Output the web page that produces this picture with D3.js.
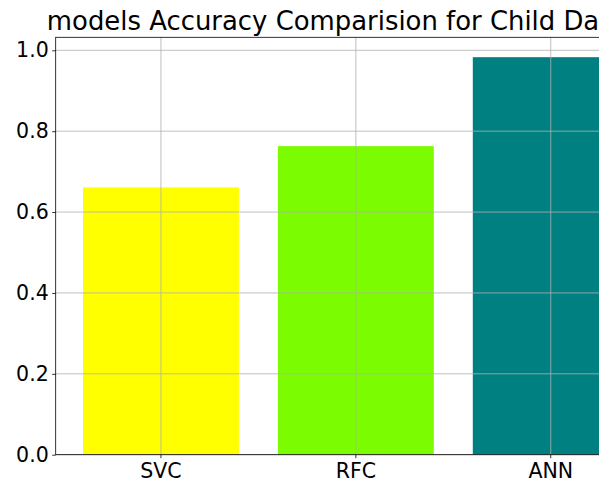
<!DOCTYPE html>
<html>
<head>
<meta charset="utf-8">
<script src="https://cdn.jsdelivr.net/npm/d3@7"></script>
<style>
html,body{margin:0;padding:0;background:#fff;overflow:hidden;}
svg{display:block;font-family:"DejaVu Sans",sans-serif;}
</style>
</head>
<body>
<svg id="chart" width="599" height="482"></svg>
<script>
const categories = ["SVC", "RFC", "ANN"];
const accuracy = [0.661, 0.763, 0.983];
const colors = ["#ffff00", "#7cfc00", "#008080"];
const yTicks = [0.0, 0.2, 0.4, 0.6, 0.8, 1.0];
const title = "models Accuracy Comparision for Child Dataset";

(function () {
const svg = d3.select("#chart");
const mLeft = 55.7, mRight = 656, mTop = 37.3, mBottom = 454.7;

const x = d3.scaleBand().domain(categories).range([mLeft, mRight])
  .paddingInner(0.2).paddingOuter(0.14);
const yMax = d3.max(accuracy) * 1.05;
const y = d3.scaleLinear().domain([0, yMax]).range([mBottom, mTop]);

// bars
svg.append("g").selectAll("rect").data(categories).join("rect")
  .attr("x", d => x(d))
  .attr("width", x.bandwidth())
  .attr("y", (d, i) => y(accuracy[i]))
  .attr("height", (d, i) => y(0) - y(accuracy[i]))
  .attr("fill", (d, i) => colors[i]);

// grid (above bars)
const grid = svg.append("g");
grid.selectAll(".hg").data(yTicks).join("line")
  .attr("x1", mLeft).attr("x2", mRight)
  .attr("y1", d => y(d)).attr("y2", d => y(d))
  .attr("stroke", "#b0b0b0").attr("stroke-width", 0.8);
grid.selectAll(".vg").data(categories).join("line")
  .attr("x1", d => x(d) + x.bandwidth() / 2).attr("x2", d => x(d) + x.bandwidth() / 2)
  .attr("y1", mTop).attr("y2", mBottom)
  .attr("stroke", "#b0b0b0").attr("stroke-width", 0.8);

// axes
const yAxis = svg.append("g").attr("transform", `translate(${mLeft},0)`)
  .call(d3.axisLeft(y).tickValues(yTicks).tickFormat(d3.format(".1f")).tickSize(3.5).tickPadding(3.5));
const xAxis = svg.append("g").attr("transform", `translate(0,${mBottom})`)
  .call(d3.axisBottom(x).tickSize(3.5).tickPadding(3.5));
[yAxis, xAxis].forEach(g => {
  g.select(".domain").remove();
  g.selectAll("line").attr("stroke", "#000").attr("stroke-width", 0.8);
  g.selectAll("text").attr("font-size", "20.5px").attr("font-family", "DejaVu Sans").attr("fill", "#000");
});
xAxis.selectAll("text").attr("dy", "0.80em");

// spines
svg.append("rect").attr("x", mLeft).attr("y", mTop)
  .attr("width", mRight - mLeft).attr("height", mBottom - mTop)
  .attr("fill", "none").attr("stroke", "#000").attr("stroke-width", 0.8);

// title (centred over the axes, which extend past the right edge)
svg.append("text").attr("x", (mLeft + mRight) / 2).attr("y", 29.5)
  .attr("text-anchor", "middle").attr("font-size", "25.9px").attr("fill", "#000")
  .text(title);
})();
</script>
</body>
</html>
